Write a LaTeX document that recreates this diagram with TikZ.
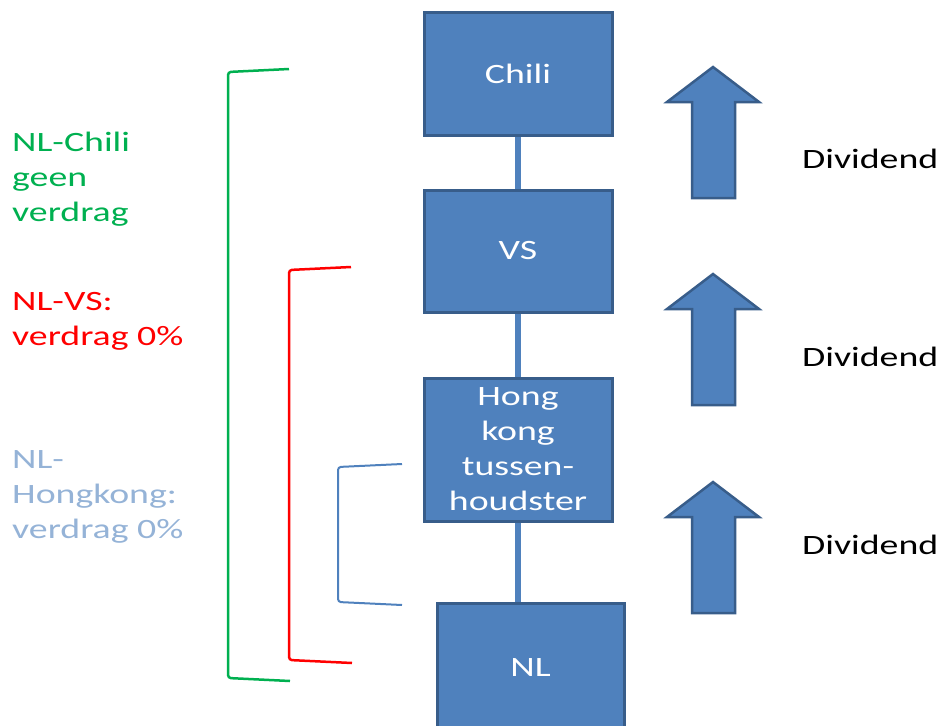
\documentclass[tikz,border=0pt]{standalone}
\usepackage{fontspec}
\setmainfont{Carlito}[FakeStretch=1.35]
\definecolor{boxfill}{HTML}{4F81BD}
\definecolor{boxline}{HTML}{385D8A}
\definecolor{brgreen}{HTML}{00B050}
\definecolor{brred}{HTML}{FF0000}
\definecolor{lblue}{HTML}{95B3D7}
\tikzset{
  entity/.style={draw=boxline, fill=boxfill, line width=3pt, minimum width=188pt, inner sep=0pt,
    text=white, align=center, font=\fontsize{28}{35}\selectfont},
  link/.style={draw=boxfill, line width=6pt},
  divarrow/.style={draw=boxline, fill=boxfill, line width=2.5pt, line join=miter},
  lbl/.style={anchor=base west, align=left, inner sep=0pt, font=\fontsize{28}{35}\selectfont},
  bracket/.style={line width=2.5pt, rounded corners=3pt},
}
\begin{document}
\begin{tikzpicture}[x=1pt,y=-1pt]
\useasboundingbox (0,0) rectangle (939,725);
% boxes
\node[entity, minimum height=122pt] (chili) at (518,74) {Chili};
\node[entity, minimum height=122pt] (vs) at (518,251) {VS};
\node[entity, minimum height=143pt] (hk) at (518,449.5) {Hong\\kong\\tussen-\\houdster};
\node[entity, minimum width=187pt, minimum height=130pt] (nl) at (530.5,668) {NL};
% connectors
\draw[link] (chili.south) -- (vs.north);
\draw[link] (vs.south) -- (hk.north);
\draw[link] (hk.south) -- (hk.south |- nl.north);
% dividend arrows
\foreach \t in {67, 274, 482}{
  \draw[divarrow] (713,\t) -- (759,\t+35) -- (735,\t+35) -- (735,\t+131)
     -- (692,\t+131) -- (692,\t+35) -- (667,\t+35) -- cycle;
}
\node[lbl] (d1) at (802,168) {Dividend};
\node[lbl] (d2) at (802,366) {Dividend};
\node[lbl] (d3) at (802,554) {Dividend};
% brackets
\draw[bracket, draw=brgreen] (289,69) -- (228,72) -- (228,678) -- (290,681);
\draw[bracket, draw=brred] (351,267) -- (289,270) -- (289,660) -- (352,663);
\draw[bracket, draw=boxfill, line width=2pt] (402,464) -- (338,467) -- (338,602) -- (402,605);
% labels (base anchor = baseline of last line)
\node[lbl, text=brgreen] (l1) at (12,221) {NL-Chili\\geen\\verdrag};
\node[lbl, text=brred] (l2) at (12,345) {NL-VS:\\verdrag 0\%};
\node[lbl, text=lblue] (l3) at (12,538) {NL-\\Hongkong:\\verdrag 0\%};
\end{tikzpicture}
\end{document}
